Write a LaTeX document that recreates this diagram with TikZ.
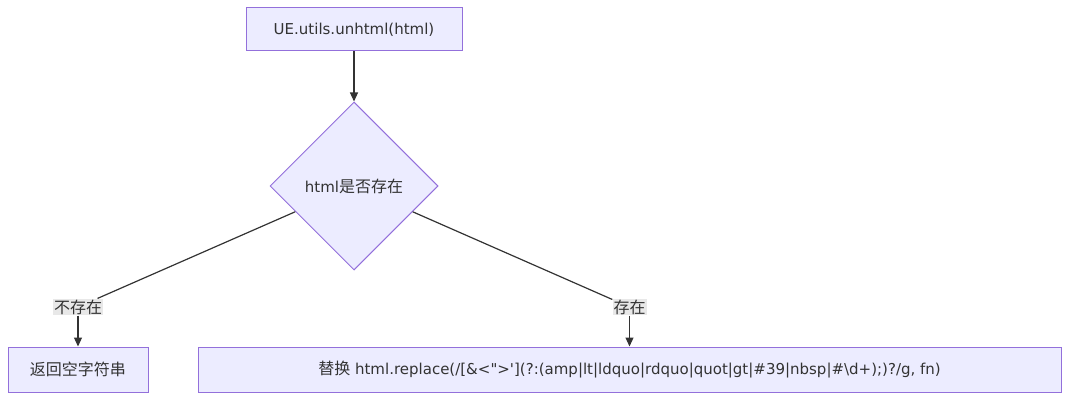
\documentclass[tikz,border=0pt]{standalone}
\usepackage{fontspec}
\setmainfont{DejaVu Sans}
\newfontfamily\rawq{DejaVu Sans}
\newfontfamily\cjk{Noto Sans CJK SC}
\usetikzlibrary{shapes.geometric,arrows.meta}
\definecolor{nodefill}{HTML}{ECECFF}
\definecolor{nodeline}{HTML}{9370DB}
\definecolor{ink}{HTML}{333333}
\definecolor{lblbg}{HTML}{E8E8E8}
\tikzset{
  box/.style={draw=nodeline, fill=nodefill, line width=1pt, text=ink, inner sep=0pt, font=\fontsize{15}{17}\selectfont},
  decide/.style={diamond, draw=nodeline, fill=nodefill, line width=1pt, text=ink, inner sep=0pt, minimum width=168pt, minimum height=168pt, font=\fontsize{15}{17}\selectfont},
  lbl/.style={fill=lblbg, text=ink, inner sep=1pt, font=\cjk\fontsize{16}{18}\selectfont},
  conn/.style={draw=ink, line width=1.2pt},
  arr/.style={conn, -{Triangle[length=9pt,width=8pt]}}
}
\begin{document}
\begin{tikzpicture}[x=1pt,y=-1pt]
\useasboundingbox (0,0) rectangle (1069,401);
\node[box, minimum width=216pt, minimum height=43pt] (start) at (354,29.5) {UE.utils.unhtml(html)};
\node[decide] (chk) at (354,186) {html{\cjk\fontsize{16}{18}\selectfont 是否存在}};
\node[box, minimum width=140pt, minimum height=45pt, font=\cjk\fontsize{16}{18}\selectfont] (empty) at (78,369.5) {返回空字符串};
\node[box, minimum width=863pt, minimum height=45pt] (repl) at (629.5,369.5) {{\cjk\fontsize{16}{18}\selectfont 替换} html.replace(/[\&<{\rawq "}>{\rawq '}](?:(amp|lt|ldquo|rdquo|quot|gt|\#39|nbsp|\#\textbackslash d+);)?/g, fn)};
\node[lbl] (no) at (78,307) {不存在};
\node[lbl] (yes) at (629.5,307) {存在};
\draw[arr] (start) -- (chk);
\draw[conn] (chk) -- (no);
\draw[arr] (no) -- (empty);
\draw[conn] (chk) -- (yes);
\draw[arr] (yes) -- (repl);
\end{tikzpicture}
\end{document}
